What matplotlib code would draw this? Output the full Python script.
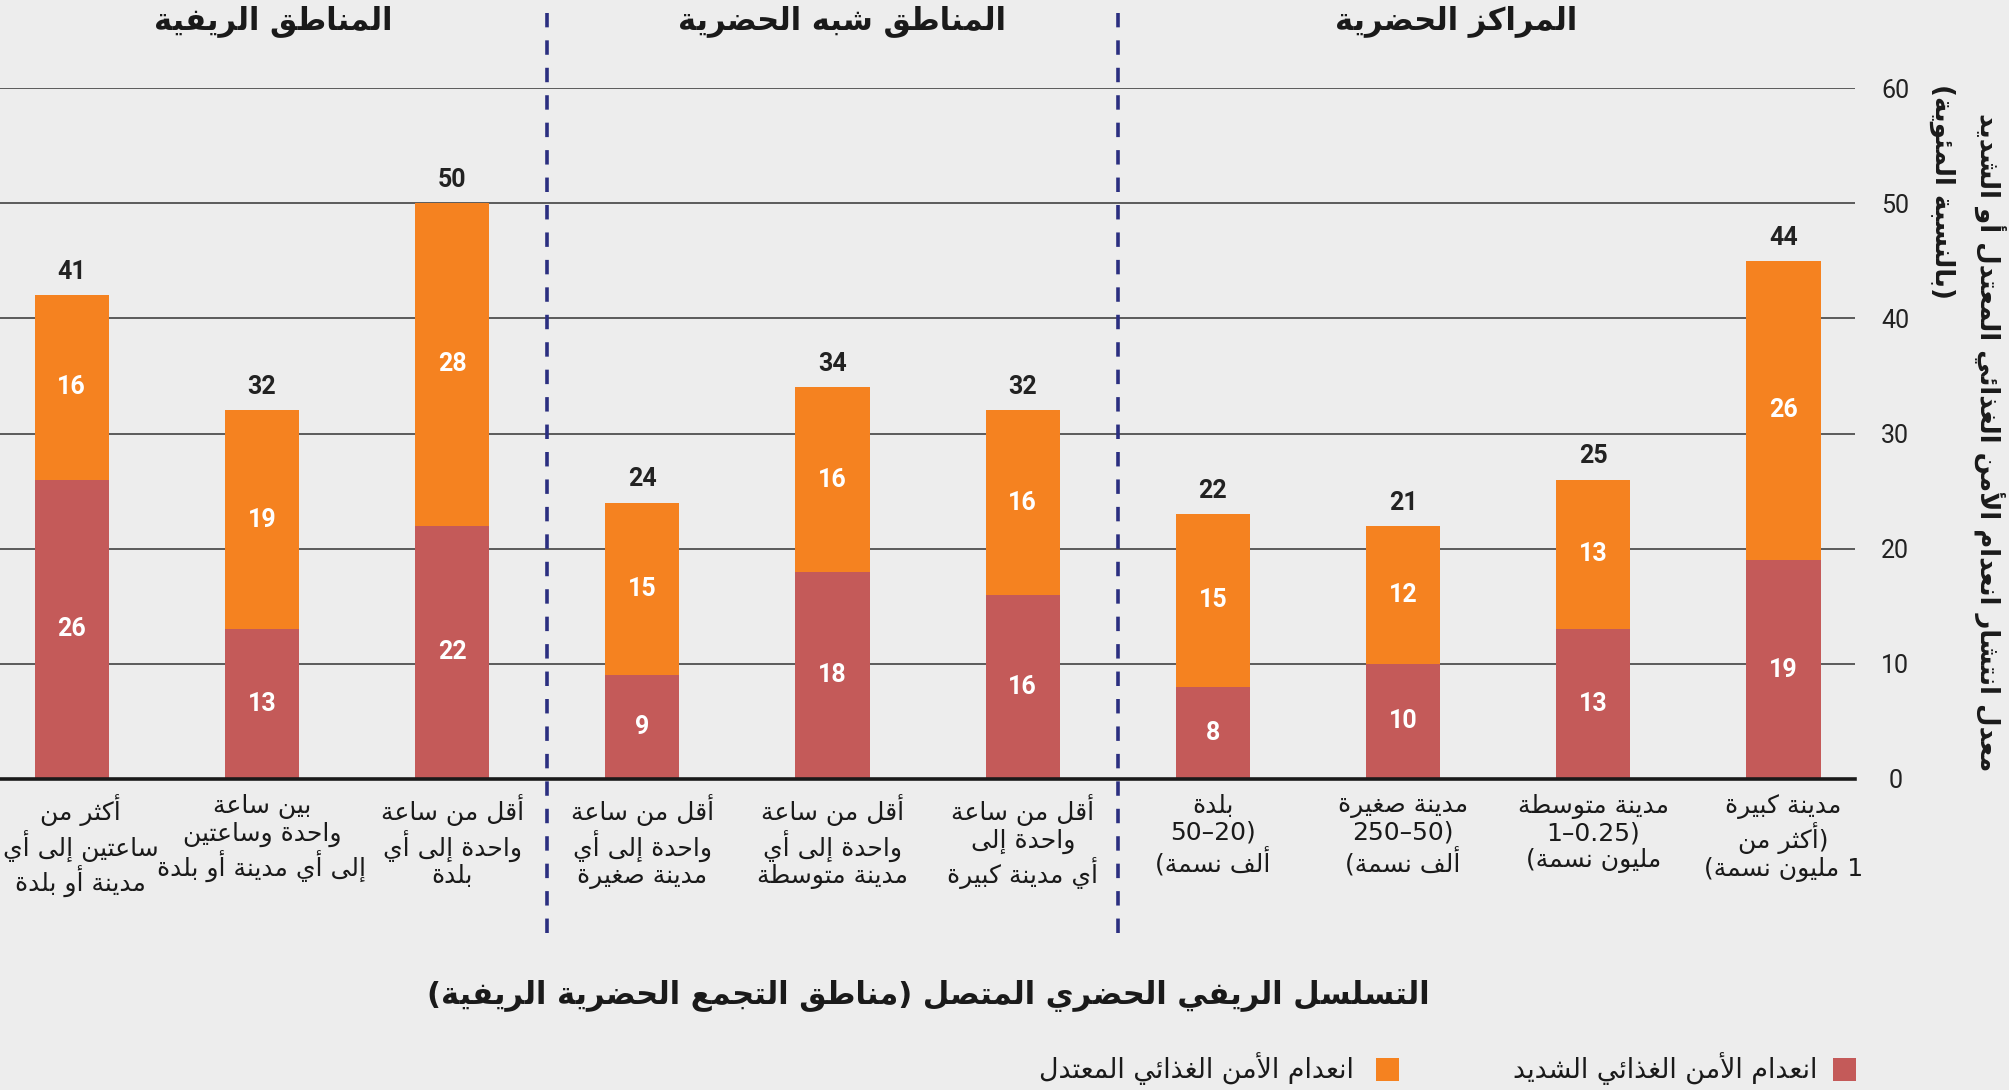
import re
import numpy as np
import matplotlib
matplotlib.use('Agg')
import matplotlib.pyplot as plt
import matplotlib.transforms as mtransforms
from matplotlib.patches import Rectangle

# ---- data (left to right) ----
group_names = ['المناطق الريفية', 'المناطق شبه الحضرية', 'المراكز الحضرية']
categories = [
    'أكثر من\nساعتين إلى أي\nمدينة أو بلدة',
    'بين ساعة\nواحدة وساعتين\nإلى أي مدينة أو بلدة',
    'أقل من ساعة\nواحدة إلى أي\nبلدة',
    'أقل من ساعة\nواحدة إلى أي\nمدينة صغيرة',
    'أقل من ساعة\nواحدة إلى أي\nمدينة متوسطة',
    'أقل من ساعة\nواحدة إلى\nأي مدينة كبيرة',
    'بلدة\n(20–50\nألف نسمة)',
    'مدينة صغيرة\n(50–250\nألف نسمة)',
    'مدينة متوسطة\n(0.25–1\nمليون نسمة)',
    'مدينة كبيرة\n(أكثر من\n1 مليون نسمة)',
]
severe = [26, 13, 22, 9, 18, 16, 8, 10, 13, 19]
moderate = [16, 19, 28, 15, 16, 16, 15, 12, 13, 26]
totals = [41, 32, 50, 24, 34, 32, 22, 21, 25, 44]
y_ticks = [0, 10, 20, 30, 40, 50, 60]

x_title = 'التسلسل الريفي الحضري المتصل (مناطق التجمع الحضرية الريفية)'
y_title = 'معدل انتشار انعدام الأمن الغذائي المعتدل أو الشديد'
y_title2 = '(بالنسبة المئوية)'
legend_severe = 'انعدام الأمن الغذائي الشديد'
legend_moderate = 'انعدام الأمن الغذائي المعتدل'

BG = '#ededed'
C_SEV = '#c45a59'
C_MOD = '#f58220'
C_SEP = '#2b2f80'
TXT = '#1a1a1a'
NUM_FONT = 'Roboto'

# ---- minimal arabic shaping + right-to-left ordering (matplotlib has none) ----
_START = {'ء': 0xFE80, 'آ': 0xFE81, 'أ': 0xFE83, 'ؤ': 0xFE85, 'إ': 0xFE87, 'ئ': 0xFE89,
          'ا': 0xFE8D, 'ب': 0xFE8F, 'ة': 0xFE93, 'ت': 0xFE95, 'ث': 0xFE99, 'ج': 0xFE9D,
          'ح': 0xFEA1, 'خ': 0xFEA5, 'د': 0xFEA9, 'ذ': 0xFEAB, 'ر': 0xFEAD, 'ز': 0xFEAF,
          'س': 0xFEB1, 'ش': 0xFEB5, 'ص': 0xFEB9, 'ض': 0xFEBD, 'ط': 0xFEC1, 'ظ': 0xFEC5,
          'ع': 0xFEC9, 'غ': 0xFECD, 'ف': 0xFED1, 'ق': 0xFED5, 'ك': 0xFED9, 'ل': 0xFEDD,
          'م': 0xFEE1, 'ن': 0xFEE5, 'ه': 0xFEE9, 'و': 0xFEED, 'ى': 0xFEEF, 'ي': 0xFEF1}
_RIGHT_ONLY = set('آأؤإاةدذرزوى')
_LAMALEF = {'آ': 0xFEF5, 'أ': 0xFEF7, 'إ': 0xFEF9, 'ا': 0xFEFB}


def _shape(s):
    out = []
    prev = False
    i = 0
    while i < len(s):
        c = s[i]
        if c not in _START:
            out.append(c)
            prev = False
            i += 1
            continue
        nxt = s[i + 1] if i + 1 < len(s) else ''
        if c == 'ل' and nxt in _LAMALEF:
            out.append(chr(_LAMALEF[nxt] + (1 if prev else 0)))
            prev = False
            i += 2
            continue
        base = _START[c]
        if c == 'ء':
            out.append(chr(base))
            prev = False
            i += 1
            continue
        dual = c not in _RIGHT_ONLY
        join_next = dual and nxt in _START and nxt != 'ء'
        if prev and join_next:
            code = base + 3
        elif prev:
            code = base + 1
        elif join_next:
            code = base + 2
        else:
            code = base
        out.append(chr(code))
        prev = dual
        i += 1
    return ''.join(out)


def ar(text):
    lines = []
    for line in text.split('\n'):
        runs = re.findall(r'[0-9]+(?:\.[0-9]+)?|.', _shape(line))
        runs = [{'(': ')', ')': '('}.get(r, r) for r in runs[::-1]]
        lines.append(''.join(runs))
    return '\n'.join(lines)


plt.rcParams['font.family'] = ['DejaVu Sans']

W, H = 2009, 1090
fig = plt.figure(figsize=(W / 100, H / 100), dpi=100, facecolor=BG)


def fx(px):
    return px / W


def fy(py):
    return 1 - py / H


ax = fig.add_axes([0, fy(779), fx(1855), (779 - 88) / H])
ax.set_facecolor(BG)

x = np.arange(len(severe))
bw = 0.39
b1 = ax.bar(x, severe, width=bw, color=C_SEV, zorder=2)
b2 = ax.bar(x, moderate, width=bw, bottom=severe, color=C_MOD, zorder=2)

ax.bar_label(b1, labels=[str(v) for v in severe], label_type='center', color='white',
             fontsize=18, fontweight='bold', family=NUM_FONT)
ax.bar_label(b2, labels=[str(v) for v in moderate], label_type='center', color='white',
             fontsize=18, fontweight='bold', family=NUM_FONT)
for xi, s, m, t in zip(x, severe, moderate, totals):
    ax.annotate(str(t), (xi, s + m), xytext=(0, 8), textcoords='offset points',
                ha='center', va='bottom', fontsize=18, fontweight='bold',
                color='#222222', family=NUM_FONT)

ax.set_xlim(-0.377, 9.376)
ax.set_ylim(0, 60)
ax.set_yticks(y_ticks)
ax.yaxis.tick_right()
ax.tick_params(axis='y', length=0, pad=29, labelsize=18, labelcolor='#222222')
for lbl in ax.get_yticklabels():
    lbl.set_ha('center')
    lbl.set_family(NUM_FONT)
ax.yaxis.grid(True, color='#333333', lw=1.1, zorder=0)
ax.set_axisbelow(True)

ax.set_xticks(x)
ax.set_xticklabels([ar(c) for c in categories], fontsize=18, color=TXT,
                   linespacing=1.12, multialignment='center')
ax.tick_params(axis='x', length=0, pad=11)
# first label sits at the very left edge: nudge it inwards so it is not cut
first = ax.get_xticklabels()[0]
first.set_transform(first.get_transform() +
                    mtransforms.ScaledTranslation(9 / 100, 0, fig.dpi_scale_trans))

for sp in ['top', 'left', 'right']:
    ax.spines[sp].set_visible(False)
ax.spines['bottom'].set_linewidth(2.6)
ax.spines['bottom'].set_color(TXT)
ax.spines['bottom'].set_zorder(3)

# dashed separators between the three groups
for sx in [2.5, 5.5]:
    ax.plot([sx, sx], [-13.4, 66.5], ls=(0, (4, 3.6)), color=C_SEP, lw=2.6, clip_on=False)

# group headings
for name, px in zip(group_names, [273, 842, 1456]):
    fig.text(fx(px), fy(21), ar(name), ha='center', va='center', fontsize=22,
             fontweight='bold', color=TXT)

# axis titles
fig.text(fx(928), fy(996), ar(x_title), ha='center', va='center', fontsize=22,
         fontweight='bold', color=TXT)
fig.text(fx(1990), fy(113), ar(y_title), rotation=-90, ha='center', va='top',
         fontsize=18.7, fontweight='bold', color=TXT)
fig.text(fx(1942), fy(84), ar(y_title2), rotation=-90, ha='center', va='top',
         fontsize=18.7, fontweight='bold', color=TXT)

# legend
for col, lab, sq_x, tx_x in [(C_MOD, legend_moderate, 1376, 1354),
                             (C_SEV, legend_severe, 1833, 1817)]:
    fig.add_artist(Rectangle((fx(sq_x), fy(1081)), 23 / W, 23 / H, transform=fig.transFigure,
                             facecolor=col, edgecolor='none'))
    fig.text(fx(tx_x), fy(1069), ar(lab), ha='right', va='center', fontsize=19.4, color=TXT)

fig.savefig('out.png', dpi=100, facecolor=BG)
